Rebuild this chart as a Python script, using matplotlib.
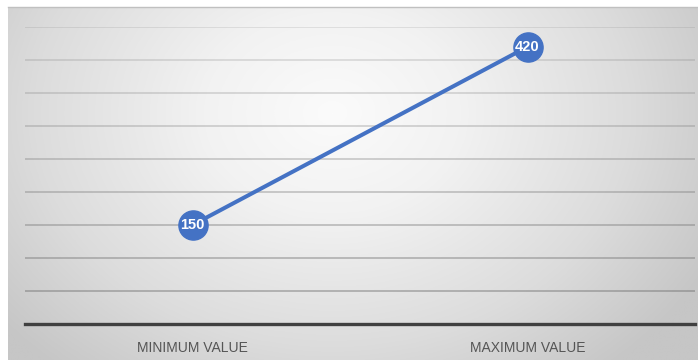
import numpy as np
import matplotlib
matplotlib.use("Agg")
import matplotlib.pyplot as plt
from matplotlib.colors import LinearSegmentedColormap

categories = ["MINIMUM VALUE", "MAXIMUM VALUE"]
values = [150, 420]

W, H = 698, 360
fig = plt.figure(figsize=(W / 100, H / 100), dpi=100)

# soft radial grey background behind the chart
bg = fig.add_axes([8 / W, 0, (W - 8) / W, (H - 7) / H])
yy, xx = np.mgrid[0:1:400j, 0:1:800j]
r = np.sqrt(((xx - 0.47) / 0.62) ** 2 + ((yy - 0.3) / 0.95) ** 2)
cmap = LinearSegmentedColormap.from_list(
    "bg", [(0, "#fbfbfb"), (0.3, "#f2f2f2"), (0.7, "#dcdcdc"), (1, "#c6c6c6")])
bg.imshow(r, cmap=cmap, vmin=0, vmax=1.0, aspect="auto", extent=[0, 1, 1, 0],
          interpolation="bilinear")
bg.set_xticks([])
bg.set_yticks([])
for s in ["left", "right", "bottom"]:
    bg.spines[s].set_visible(False)
bg.spines["top"].set_color("#c0c0c0")
bg.spines["top"].set_linewidth(1.0)

ax = fig.add_axes([25 / W, 36 / H, 670 / W, 297 / H])
ax.patch.set_alpha(0)
x = np.arange(len(categories))
ax.set_xlim(-0.5, 1.5)
ax.set_ylim(0, 450)
for yv in range(50, 451, 50):
    a = 0.55 - 0.35 * (yv - 50) / 400
    ax.axhline(yv, color="#6e6e6e", alpha=a, lw=1.1, zorder=1)
ax.plot(x, values, color="#4472C4", lw=2.9, marker="o", markersize=21,
        markerfacecolor="#4472C4", markeredgecolor="#4472C4", zorder=3)
for xi, v in zip(x, values):
    ax.text(xi, v, str(v), ha="center", va="center", color="white",
            fontsize=10.5, fontweight="bold", zorder=4,
            family=["Liberation Sans", "DejaVu Sans"])

ax.set_xticks(x)
ax.set_xticklabels(categories, color="#555555", fontsize=10,
                   family=["Liberation Sans", "DejaVu Sans"])
ax.tick_params(axis="x", length=0, pad=12)
ax.set_yticks([])
for s in ["left", "right", "top"]:
    ax.spines[s].set_visible(False)
ax.spines["bottom"].set_color("#404040")
ax.spines["bottom"].set_linewidth(2.4)

fig.savefig("out.png", dpi=100, facecolor="white")
